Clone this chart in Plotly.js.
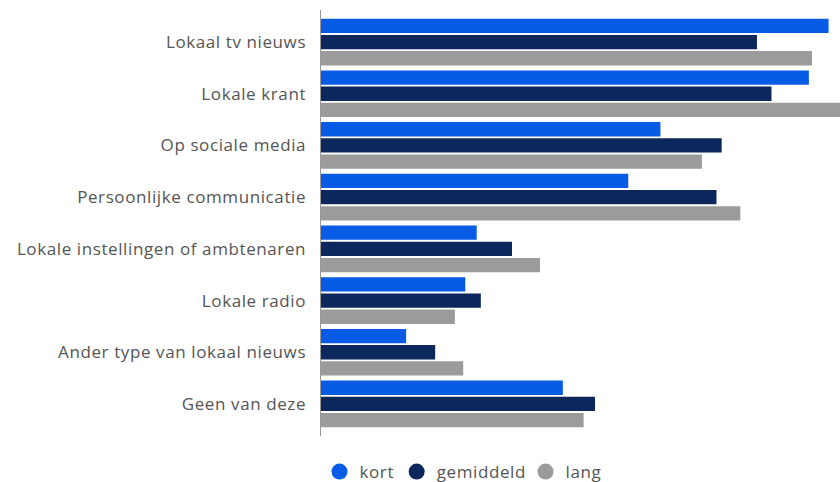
<!DOCTYPE html>
<html>
<head>
<meta charset="utf-8">
<script src="https://cdn.plot.ly/plotly-3.0.1.min.js"></script>
<style>
html,body{margin:0;padding:0;background:#fff;}
#chart{width:840px;height:482px;}
#chart .ytick text, #chart .legendtext{letter-spacing:0.6px;}
</style>
</head>
<body>
<div id="chart"></div>
<script>
const categories = [
  "Lokaal tv nieuws",
  "Lokale krant",
  "Op sociale media",
  "Persoonlijke communicatie",
  "Lokale instellingen of ambtenaren",
  "Lokale radio",
  "Ander type van lokaal nieuws",
  "Geen van deze"
];
const seriesNames = ["kort", "gemiddeld", "lang"];
const kort      = [48.9, 47.0, 32.7, 29.6, 15.0, 13.9, 8.2, 23.3];
const gemiddeld = [42.0, 43.4, 38.6, 38.1, 18.4, 15.4, 11.0, 26.4];
const lang      = [47.3, 52.0, 36.7, 40.4, 21.1, 12.9, 13.7, 25.3];
const colors = ["#085be5", "#0c275c", "#9b9b9b"];
const values = [kort, gemiddeld, lang];

const FONT = "Open Sans, sans-serif";
const traces = [];
values.forEach((v, i) => {
  traces.push({
    type: "bar", orientation: "h",
    x: v, y: categories, name: seriesNames[i],
    marker: {color: colors[i]},
    showlegend: false, hoverinfo: "x+name"
  });
});
seriesNames.forEach((n, i) => {
  traces.push({
    type: "scatter", mode: "markers",
    x: [null], y: [null], name: n,
    marker: {color: colors[i], size: 17, symbol: "circle"},
    showlegend: true
  });
});

const layout = {
  width: 840, height: 482,
  margin: {l: 321, r: 0, t: 10, b: 46},
  paper_bgcolor: "#fff", plot_bgcolor: "#fff",
  font: {family: FONT, size: 17, color: "#555"},
  barmode: "group", bargap: 0.06, bargroupgap: 0.12,
  showlegend: true,
  legend: {orientation: "h", xref: "container", yref: "container", x: 0.55, xanchor: "center", y: 0.0207, yanchor: "middle",
           font: {family: FONT, size: 17, color: "#555"}, itemsizing: "trace", itemwidth: 20},
  xaxis: {range: [0, 50], showgrid: false, zeroline: false, showticklabels: false, showline: false, fixedrange: true},
  yaxis: {type: "category", range: [7.62, -0.62], showgrid: false, zeroline: false,
          showline: true, linecolor: "#999", linewidth: 1.5,
          ticks: "outside", ticklen: 10, tickcolor: "rgba(0,0,0,0)",
          tickfont: {family: FONT, size: 17, color: "#555"}}
};
Plotly.newPlot("chart", traces, layout, {displayModeBar: false, staticPlot: true});
</script>
</body>
</html>
